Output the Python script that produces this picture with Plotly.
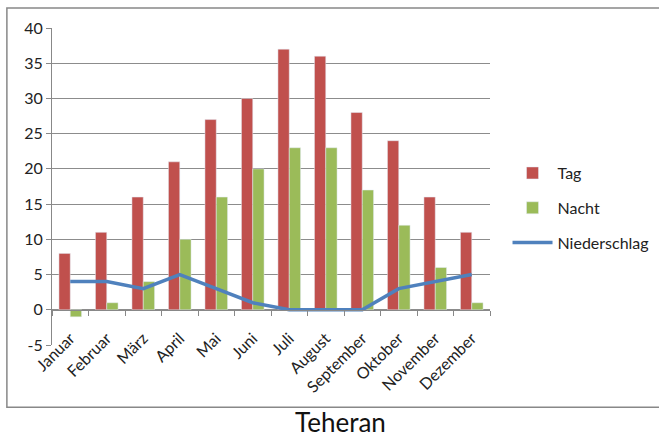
import plotly.graph_objects as go

months = ["Januar", "Februar", "März", "April", "Mai", "Juni", "Juli",
          "August", "September", "Oktober", "November", "Dezember"]
tag = [8, 11, 16, 21, 27, 30, 37, 36, 28, 24, 16, 11]
nacht = [-1, 1, 4, 10, 16, 20, 23, 23, 17, 12, 6, 1]
niederschlag = [4, 4, 3, 5, 3, 1, 0, 0, 0, 3, 4, 5]
y_ticks = [-5, 0, 5, 10, 15, 20, 25, 30, 35, 40]
y_labels = ["-5", "0", "5", "10", "15", "20", "25", "30", "35", "40"]

FONT = "Lato, Open Sans, sans-serif"

fig = go.Figure()
fig.add_trace(go.Bar(x=months, y=tag, name="Tag", marker_color="#C0504D",
                     legendgroup="a"))
fig.add_trace(go.Bar(x=months, y=nacht, name="Nacht", marker_color="#9BBB59",
                     legendgroup="b"))
fig.add_trace(go.Scatter(x=months, y=niederschlag, name="Niederschlag", mode="lines",
                         line=dict(color="#4F81BD", width=3.5), legendgroup="c"))

fig.update_layout(
    width=659, height=436,
    margin=dict(l=52, r=169, t=28, b=91, autoexpand=False),
    paper_bgcolor="white", plot_bgcolor="white",
    barmode="group", bargap=0.38, bargroupgap=0,
    font=dict(family=FONT, size=16, color="#222"),
    showlegend=True,
    legend=dict(x=1.04, y=0.432, xanchor="left", yanchor="middle",
                font=dict(size=16, color="#222"), tracegroupgap=11,
                itemwidth=40),
    xaxis=dict(type="category", anchor="free", position=5/45,
               showline=True, linecolor="#888", linewidth=1.2, automargin=False,
               ticks="outside", tickson="boundaries", ticklen=5, tickcolor="#888",
               showgrid=False, tickangle=-45, ticklabelstandoff=12,
               tickfont=dict(size=16, color="#222")),
    yaxis=dict(range=[-5, 40], tickvals=y_ticks, ticktext=y_labels, showgrid=True,
               gridcolor="#8c8c8c", automargin=False,
               gridwidth=1.2, zeroline=False, showline=True, linecolor="#888",
               linewidth=1.2, ticks="outside", ticklen=5, tickcolor="#888",
               tickfont=dict(size=16, color="#222")),
    shapes=[dict(type="rect", xref="paper", yref="paper",
                 x0=-0.103, x1=1.45, y0=-0.196, y1=1.063,
                 line=dict(color="#888", width=1.5), layer="below")],
    annotations=[dict(text="Teheran", xref="paper", yref="paper",
                      x=0.658, y=-0.243, xanchor="center", yanchor="middle",
                      showarrow=False, font=dict(size=26, color="#111", family=FONT))],
)

fig.write_html("out.html", config={"displayModeBar": False},
               post_script="document.body.style.margin='0';document.body.style.overflow='hidden';")
